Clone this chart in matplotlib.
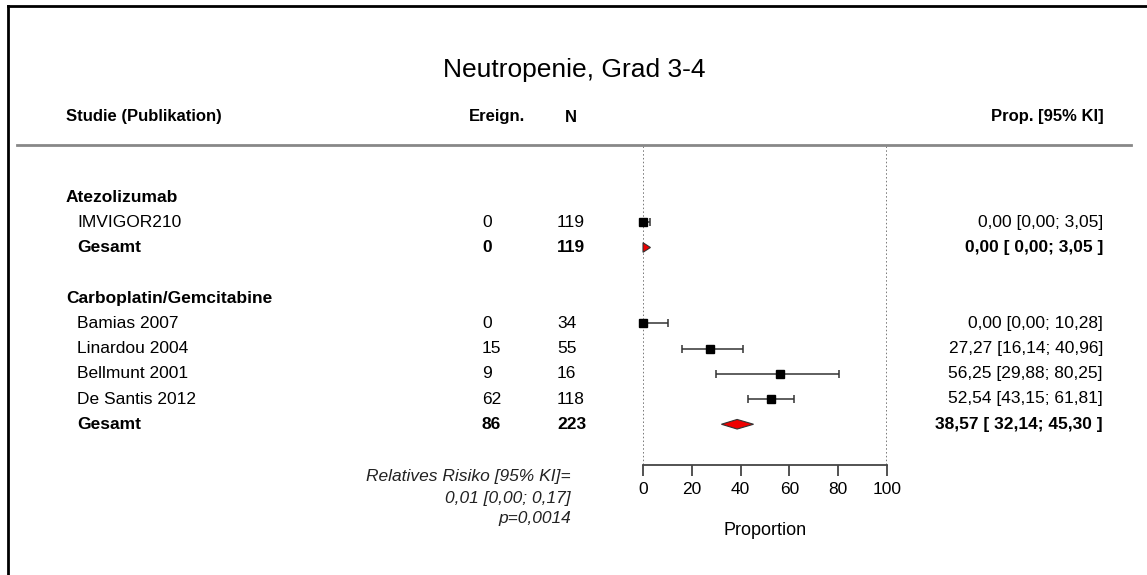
import matplotlib.pyplot as plt
from matplotlib import transforms
from matplotlib.patches import Polygon
from matplotlib.lines import Line2D

plt.rcParams['font.family'] = ['Liberation Sans', 'DejaVu Sans']

title = 'Neutropenie, Grad 3-4'
# subgroup 1
grp1 = 'Atezolizumab'
grp1_studies = ['IMVIGOR210']
grp1_events = [0]
grp1_n = [119]
grp1_prop = [0.00]
grp1_lo = [0.00]
grp1_hi = [3.05]
grp1_tot = (0, 119, 0.00, 0.00, 3.05)
grp1_tot_txt = '0,00 [ 0,00; 3,05 ]'
grp1_ci_txt = ['0,00 [0,00; 3,05]']

# subgroup 2
grp2 = 'Carboplatin/Gemcitabine'
grp2_studies = ['Bamias 2007', 'Linardou 2004', 'Bellmunt 2001', 'De Santis 2012']
grp2_events = [0, 15, 9, 62]
grp2_n = [34, 55, 16, 118]
grp2_prop = [0.00, 27.27, 56.25, 52.54]
grp2_lo = [0.00, 16.14, 29.88, 43.15]
grp2_hi = [10.28, 40.96, 80.25, 61.81]
grp2_tot = (86, 223, 38.57, 32.14, 45.30)
grp2_tot_txt = '38,57 [ 32,14; 45,30 ]'
grp2_ci_txt = ['0,00 [0,00; 10,28]', '27,27 [16,14; 40,96]',
               '56,25 [29,88; 80,25]', '52,54 [43,15; 61,81]']

rr_text = ['Relatives Risiko [95% KI]=', '0,01 [0,00; 0,17]', 'p=0,0014']
xticks = [0, 20, 40, 60, 80, 100]

W, H = 1147, 575
fig = plt.figure(figsize=(W / 100, H / 100), dpi=100)

# forest axes: x 0..100 from px 643 to 887, rows from y 145 to 465
row0, dy = 197, 25.25
top_px, bot_px = 145, 465
ax = fig.add_axes([643 / W, 1 - bot_px / H, (887 - 643) / W, (bot_px - top_px) / H])
ax.set_xlim(0, 100)
ax.set_ylim((bot_px - row0) / dy, (top_px - row0) / dy)
for s in ['top', 'right', 'left']:
    ax.spines[s].set_visible(False)
ax.spines['bottom'].set_color('#444444')
ax.spines['bottom'].set_linewidth(1.3)
ax.set_yticks([])
ax.set_xticks(xticks)
ax.tick_params(axis='x', length=8, width=1.3, color='#444444', labelsize=12.5, pad=4)
ax.set_xlabel('Proportion', fontsize=13, labelpad=18)
ax.patch.set_alpha(0)
for xv in [0, 100]:
    ax.axvline(xv, color='#555555', lw=1.1, ls=(0, (1, 1.5)), zorder=1)

tr = transforms.blended_transform_factory(fig.transFigure, ax.transData)
fs = 12.5


def txt(xpx, row, s, ha='left', bold=False, italic=False, size=fs):
    fig.text(xpx / W, row, s, transform=tr, ha=ha, va='center', fontsize=size,
             fontweight='bold' if bold else 'normal',
             fontstyle='italic' if italic else 'normal')


def diamond(row, est, lo, hi, h=0.19):
    poly = Polygon([[lo, row], [est, row - h], [hi, row], [est, row + h]],
                   closed=True, facecolor='#ee0000', edgecolor='#333333', lw=0.8,
                   zorder=4, clip_on=False)
    ax.add_patch(poly)


def group(start, name, studies, ev, n, prop, lo, hi, ci_txt, tot, tot_txt):
    txt(66, start, name, bold=True)
    for i, s in enumerate(studies):
        r = start + 1 + i
        txt(77, r, s)
        txt(482, r, str(ev[i]))
        txt(557, r, str(n[i]))
        txt(1103, r, ci_txt[i], ha='right')
        ax.errorbar(prop[i], r, xerr=[[prop[i] - lo[i]], [hi[i] - prop[i]]],
                    fmt='s', color='black', ms=6, ecolor='#333333', elinewidth=1.1,
                    capsize=3, capthick=1.1, zorder=5, clip_on=False)
    r = start + 1 + len(studies)
    txt(77, r, 'Gesamt', bold=True)
    txt(482, r, str(tot[0]), bold=True)
    txt(557, r, str(tot[1]), bold=True)
    txt(1103, r, tot_txt, ha='right', bold=True)
    diamond(r, tot[2], tot[3], tot[4])


group(0, grp1, grp1_studies, grp1_events, grp1_n, grp1_prop, grp1_lo, grp1_hi,
      grp1_ci_txt, grp1_tot, grp1_tot_txt)
group(4, grp2, grp2_studies, grp2_events, grp2_n, grp2_prop, grp2_lo, grp2_hi,
      grp2_ci_txt, grp2_tot, grp2_tot_txt)

# headers
hrow = (117 - row0) / dy
txt(66, hrow, 'Studie (Publikation)', bold=True, size=12)
txt(497, hrow, 'Ereign.', ha='center', bold=True, size=12)
txt(571, hrow, 'N', ha='center', bold=True, size=12)
txt(1104, hrow, 'Prop. [95% KI]', ha='right', bold=True, size=12)
fig.text(574 / W, 1 - 70 / H, title, ha='center', va='center', fontsize=19)

# separator line
fig.add_artist(Line2D([17 / W, 1131 / W], [1 - 145 / H] * 2, color='#888888', lw=2))

# relative risk note
for i, s in enumerate(rr_text):
    fig.text(571 / W, 1 - (477 + 21 * i) / H, s, ha='right', va='center',
             fontsize=fs, fontstyle='italic', color='#222222')

# frame
fig.add_artist(Line2D([8 / W, 8 / W], [0, 1 - 6 / H], color='black', lw=2))
fig.add_artist(Line2D([8 / W, 1], [1 - 6 / H] * 2, color='black', lw=2))

fig.savefig('out.png', dpi=100)
